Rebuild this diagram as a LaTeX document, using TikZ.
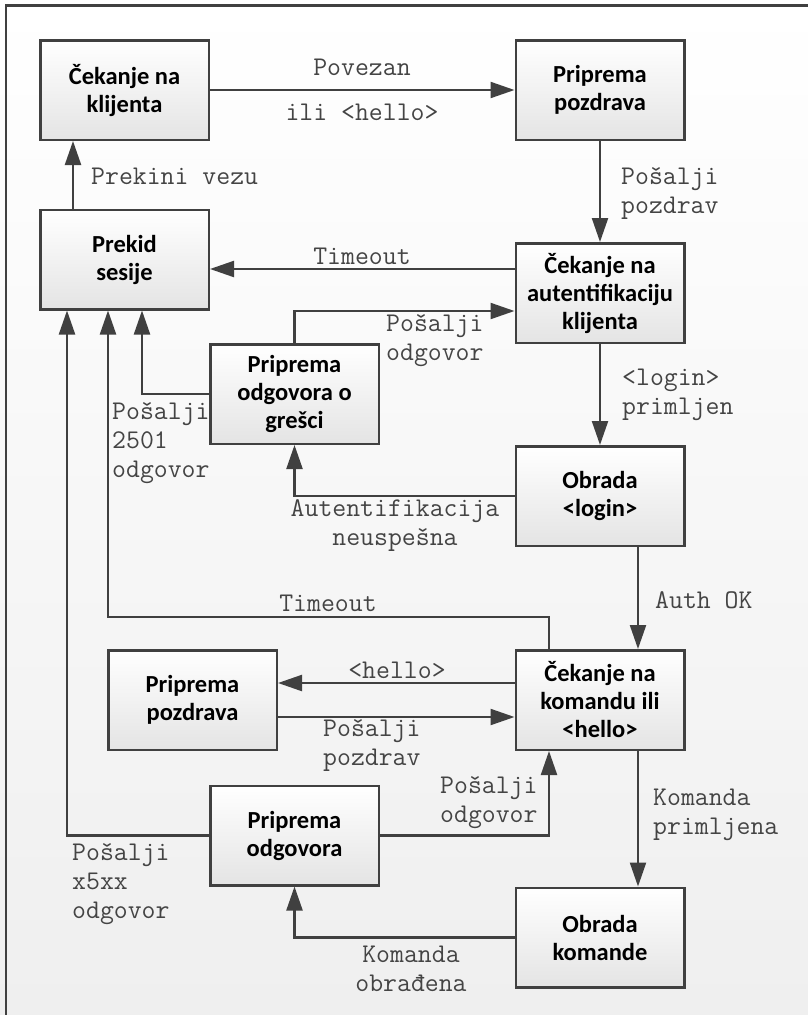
\documentclass[tikz,border=0pt]{standalone}
\usepackage{fontspec}
\newfontfamily\boxfont{Carlito}
\usetikzlibrary{arrows.meta}
\definecolor{ink}{HTML}{404040}
\definecolor{bgbot}{HTML}{EFEFEF}
\definecolor{boxbot}{HTML}{E4E4E4}
\definecolor{labelc}{HTML}{444444}

\begin{document}
\begin{tikzpicture}[x=1pt,y=-1pt,
  state/.style={draw=ink, line width=2.5pt, top color=white, bottom color=boxbot,
    minimum width=168.5pt, minimum height=99.5pt, inner sep=0pt, align=center,
    font=\boxfont\bfseries\fontsize{24.5}{28}\selectfont, text=black},
  arr/.style={draw=ink, line width=2.2pt, -{Triangle[length=24pt 0,width=16pt 0]}},
  lbl/.style={font=\ttfamily\fontsize{27}{29}\selectfont, text=labelc, inner sep=0pt},
]
\useasboundingbox (0,0) rectangle (808,1015);
% background and frame
\shade[top color=white, bottom color=bgbot] (0,0) rectangle (808,1015);
\draw[ink, line width=2.5pt] (6,1016) -- (6,5.5) -- (809,5.5);

% states
\node[state] (cwait)   at (124.5,90)    {Čekanje na\\klijenta};
\node[state] (pgreet)  at (600,90)      {Priprema\\pozdrava};
\node[state] (prekid)  at (124.5,259.5) {Prekid\\sesije};
\node[state] (auth)    at (600,293)     {Čekanje na\\autentifikaciju\\klijenta};
\node[state] (err)     at (294.5,394)   {Priprema\\odgovora o\\grešci};
\node[state] (login)   at (600,496)     {Obrada\\<login>};
\node[state] (cmd)     at (600,700)     {Čekanje na\\komandu ili\\<hello>};
\node[state] (pgreet2) at (192.5,700)   {Priprema\\pozdrava};
\node[state] (presp)   at (294.5,835.5) {Priprema\\odgovora};
\node[state] (proc)    at (600,937.5)   {Obrada\\komande};

% corner of the long timeout path
\coordinate (tcorner) at (108,617);

% transitions
\draw[arr] (cwait.east) -- (pgreet.west);
\draw[arr] (pgreet.south) -- (auth.north);
\draw[arr] (prekid.north -| 73,0) -- (cwait.south -| 73,0);
\draw[arr] (auth.west |- 0,269) -- (prekid.east |- 0,269);
\draw[arr] (err.north) |- (auth.west |- 0,311);
\draw[arr] (err.west) -| (prekid.south -| 142,0);
\draw[arr] (login.west) -| (err.south);
\draw[arr] (auth.south) -- (login.north);
\draw[arr] (cmd.north -| 549,0) |- (tcorner) -- (prekid.south -| tcorner);
\draw[arr] (login.south -| 638,0) -- (cmd.north -| 638,0);
\draw[arr] (cmd.west |- 0,683) -- (pgreet2.east |- 0,683);
\draw[arr] (pgreet2.east |- 0,717) -- (cmd.west |- 0,717);
\draw[arr] (presp.east) -| (cmd.south -| 549,0);
\draw[arr] (presp.west) -| (prekid.south -| 67,0);
\draw[arr] (cmd.south -| 638,0) -- (proc.north -| 638,0);
\draw[arr] (proc.west) -| (presp.south);

% transition labels
\node[lbl] (lPov)  at (362,67)  {Povezan};
\node[lbl] (lIli)  at (362,112) {ili <hello>};
\node[lbl, anchor=west, align=left] (lPozd) at (621,193) {Pošalji\\pozdrav};
\node[lbl, anchor=west] (lPrek) at (91,176) {Prekini vezu};
\node[lbl] (lTo1)  at (362,256) {Timeout};
\node[lbl, anchor=west, align=left] (lOdg1) at (386,340) {Pošalji\\odgovor};
\node[lbl, anchor=west, align=left] (l2501) at (112,443) {Pošalji\\2501\\odgovor};
\node[lbl, align=center] (lNeus) at (395,526) {Autentifikacija\\neuspešna};
\node[lbl, anchor=west, align=left] (lLog) at (622,395) {<login>\\primljen};
\node[lbl] (lTo2)  at (328,603) {Timeout};
\node[lbl, anchor=west] (lAuth) at (655,600) {Auth OK};
\node[lbl] (lHel)  at (397,670) {<hello>};
\node[lbl, anchor=west, align=left] (lPozd2) at (323,745) {Pošalji\\pozdrav};
\node[lbl, anchor=west, align=left] (lOdg2) at (440,802) {Pošalji\\odgovor};
\node[lbl, anchor=west, align=left] (lx5) at (72,884) {Pošalji\\x5xx\\odgovor};
\node[lbl, anchor=west, align=left] (lPrim) at (653,815) {Komanda\\primljena};
\node[lbl, align=center] (lObr) at (411,969) {Komanda\\obrađena};
\end{tikzpicture}
\end{document}
